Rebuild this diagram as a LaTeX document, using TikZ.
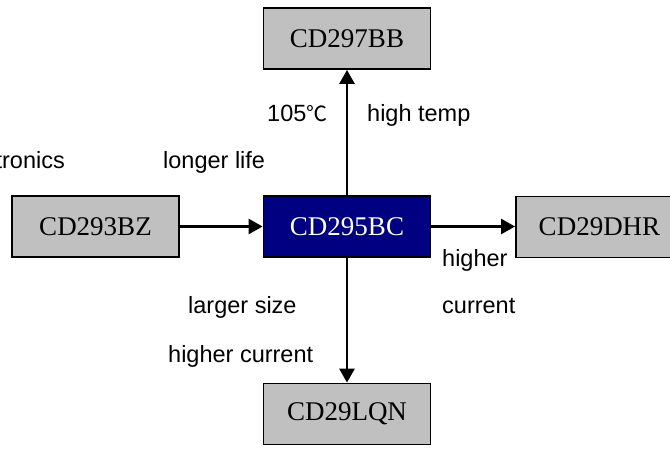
\documentclass[tikz,border=0pt]{standalone}
\usepackage{fontspec}
\setmainfont{Liberation Serif}
\setsansfont{Liberation Sans}
\newfontfamily\cjkfont{Noto Sans CJK SC}
\usetikzlibrary{arrows.meta}
\definecolor{boxgrey}{HTML}{C0C0C0}
\definecolor{navy}{HTML}{000080}
\tikzset{
  partbox/.style={draw=black, line width=1.8pt, fill=boxgrey, minimum width=167pt, minimum height=61pt, inner sep=0pt, font=\fontsize{27}{30}\selectfont\rmfamily},
  mainbox/.style={partbox, fill=navy, text=white},
  lbl/.style={anchor=base west, inner sep=0pt, font=\fontsize{23.5}{27}\selectfont\sffamily},
  arr/.style={line width=2.6pt, -{Triangle[length=14pt,width=15pt]}, shorten >=0pt}
}
\begin{document}
\begin{tikzpicture}[x=1pt,y=-1pt]
\useasboundingbox (0,0) rectangle (670,448);
\node[partbox] (bb) at (347,38.5) {CD297BB};
\node[partbox] (bz) at (95.5,226.5) {CD293BZ};
\node[mainbox] (bc) at (347,226.5) {CD295BC};
\node[partbox] (dhr) at (599.5,227) {CD29DHR};
\node[partbox] (lqn) at (347,414) {CD29LQN};
\draw[arr] (bc.north) -- (bb.south);
\draw[arr] (bz.east) -- (bc.west);
\draw[arr] (bc.east) -- (bc.east -| dhr.west);
\draw[arr] (bc.south) -- (lqn.north);
\node[lbl, anchor=base east] (t1) at (65,168) {tronics};
\node[lbl] (t2) at (163,168) {longer life};
\node[lbl] (t3) at (267,121) {105{\cjkfont\fontsize{21}{24}\selectfont ℃}};
\node[lbl] (t4) at (367,121) {high temp};
\node[lbl] (t5) at (442,266) {higher};
\node[lbl] (t6) at (442,313) {current};
\node[lbl] (t7) at (188,313) {larger size};
\node[lbl] (t8) at (168,362) {higher current};
\end{tikzpicture}
\end{document}
